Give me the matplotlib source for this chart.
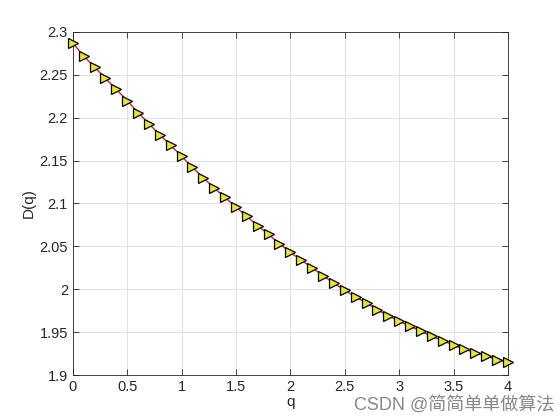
import matplotlib
matplotlib.use("Agg")
import matplotlib.pyplot as plt

plt.rcParams['font.family'] = ['Liberation Sans', 'Noto Sans CJK SC', 'DejaVu Sans']

q = [0.0, 0.1, 0.2, 0.3, 0.4, 0.5, 0.6, 0.7, 0.8, 0.9,
     1.0, 1.1, 1.2, 1.3, 1.4, 1.5, 1.6, 1.7, 1.8, 1.9,
     2.0, 2.1, 2.2, 2.3, 2.4, 2.5, 2.6, 2.7, 2.8, 2.9,
     3.0, 3.1, 3.2, 3.3, 3.4, 3.5, 3.6, 3.7, 3.8, 3.9, 4.0]
Dq = [2.287, 2.272, 2.259, 2.246, 2.233, 2.220, 2.206, 2.193, 2.180, 2.168,
      2.155, 2.142, 2.130, 2.118, 2.107, 2.096, 2.085, 2.074, 2.064, 2.053,
      2.043, 2.034, 2.025, 2.016, 2.007, 1.999, 1.991, 1.984, 1.976, 1.969,
      1.963, 1.957, 1.951, 1.945, 1.940, 1.935, 1.930, 1.926, 1.922, 1.918, 1.915]

xticks = [0, 0.5, 1, 1.5, 2, 2.5, 3, 3.5, 4]
yticks = [1.9, 1.95, 2.0, 2.05, 2.1, 2.15, 2.2, 2.25, 2.3]


def fmt(v):
    return f"{v:g}"


fig = plt.figure(figsize=(5.6, 4.2), dpi=100)
ax = fig.add_axes([0.130, 0.107, 0.777, 0.817])

ax.plot(q, Dq, color="#d62020", lw=1.0, marker=">", markersize=6.5,
        markerfacecolor="#e6e62a", markeredgecolor="black", markeredgewidth=0.9,
        zorder=3, clip_on=False)

ax.set_xlim(0, 4)
ax.set_ylim(1.9, 2.3)
ax.set_xticks(xticks)
ax.set_xticklabels([fmt(v) for v in xticks])
ax.set_yticks(yticks)
ax.set_yticklabels([fmt(v) for v in yticks])
ax.tick_params(direction="in", length=4, width=0.6, labelsize=10.5,
               colors="#262626", top=True, right=True)
ax.grid(True, color="#dcdcdc", lw=0.6)
ax.set_axisbelow(True)
for s in ax.spines.values():
    s.set_linewidth(0.6)
    s.set_color("#262626")

ax.set_xlabel("q", fontsize=11, color="#262626", labelpad=1)
ax.set_ylabel("D(q)", fontsize=11, color="#262626", labelpad=3)

# 水印
fig.text(0.99, 0.035, "CSDN @简简单单做算法", ha="right", va="center",
         fontsize=13, color="#7a7a7a", alpha=0.9)

fig.savefig("out.png", dpi=100)
